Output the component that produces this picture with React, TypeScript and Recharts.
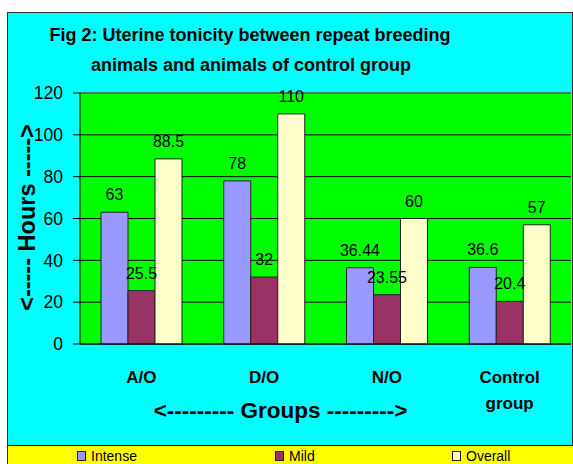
import React from 'react';
import { BarChart, Bar, XAxis, YAxis, CartesianGrid, LabelList, ReferenceLine } from 'recharts';

const categories = ['A/O', 'D/O', 'N/O', 'Control group'];
const intenseValues = [63, 78, 36.44, 36.6];
const mildValues = [25.5, 32, 23.55, 20.4];
const overallValues = [88.5, 110, 60, 57];
const yTicks = [0, 20, 40, 60, 80, 100, 120];
const seriesNames = ['Intense', 'Mild', 'Overall'];
const seriesKeys = ['intense', 'mild', 'overall'];
const titleLines = ['Fig 2: Uterine tonicity between repeat breeding', 'animals and animals of control group'];
const yAxisTitle = '<----- Hours ----->';
const xAxisTitle = '<--------- Groups --------->';

const colors = ['#9999FF', '#993366', '#FFFFCC'];
const legendX = [77, 275, 452];
const FONT = "'Liberation Sans', Arial, Helvetica, sans-serif";

const data = categories.map((c, i) => ({
  name: c,
  intense: intenseValues[i],
  mild: mildValues[i],
  overall: overallValues[i],
}));

const CatTick = (props: any) => {
  const { x, y, payload } = props;
  const lines = String(payload.value).split(' ');
  return (
    <g>
      <text x={x} y={y + 39} textAnchor="middle" fontWeight="bold" fontSize={17} fill="#000" fontFamily={FONT}>
        {lines.map((l, i) => (
          <tspan key={i} x={x} dy={i === 0 ? 0 : 26}>
            {l}
          </tspan>
        ))}
      </text>
    </g>
  );
};

export default function App() {
  return (
    <div
      style={{
        position: 'absolute',
        left: 0,
        top: 0,
        width: 573,
        height: 464,
        background: '#fff',
        overflow: 'hidden',
        fontFamily: FONT,
      }}
    >
      <div
        style={{
          position: 'absolute',
          left: 7,
          top: 12,
          width: 564,
          height: 460,
          background: '#00FFFF',
          border: '1px solid #333',
        }}
      />
      <div style={{ position: 'absolute', left: 0, top: 0 }}>
        <BarChart
          width={573}
          height={464}
          data={data}
          margin={{ top: 93, right: 2, bottom: 80, left: 0 }}
          barGap={0}
          barSize={27}
        >
          <CartesianGrid
            xAxisId="cat"
            vertical={false}
            stroke="#000"
            strokeWidth={1}
            fill="#00FF00"
            fillOpacity={1}
          />
          <XAxis
            xAxisId="edges"
            type="number"
            domain={[0, 4]}
            ticks={[0, 1, 2, 3, 4]}
            allowDataOverflow
            tick={false}
            tickSize={5}
            axisLine={false}
            tickLine={{ stroke: '#000' }}
            height={0}
          />
          <XAxis
            xAxisId="cat"
            dataKey="name"
            tick={<CatTick />}
            tickLine={false}
            tickSize={0}
            tickMargin={0}
            axisLine={{ stroke: '#000' }}
            height={40}
            interval={0}
          />
          <YAxis
            domain={[0, 120]}
            ticks={yTicks}
            interval={0}
            width={80}
            tickSize={7}
            tickMargin={10}
            axisLine={{ stroke: '#000' }}
            tickLine={{ stroke: '#000' }}
            tick={{ fill: '#000', fontSize: 17.5, fontFamily: FONT }}
          />
          <ReferenceLine xAxisId="cat" y={120} stroke="#808080" strokeWidth={1} />
          {seriesKeys.map((k, i) => (
            <Bar
              key={k}
              xAxisId="cat"
              dataKey={k}
              name={seriesNames[i]}
              fill={colors[i]}
              stroke="#222"
              strokeWidth={1}
              isAnimationActive={false}
            >
              <LabelList
                dataKey={k}
                position="top"
                offset={12}
                fill="#000"
                fontSize={16}
                fontFamily={FONT}
              />
            </Bar>
          ))}
        </BarChart>
      </div>
      <svg
        width={573}
        height={464}
        style={{ position: 'absolute', left: 0, top: 0, pointerEvents: 'none' }}
      >
        <text x={250} y={40.7} textAnchor="middle" fontWeight="bold" fontSize={18} fill="#000" fontFamily={FONT}>
          {titleLines[0]}
        </text>
        <text x={251} y={70.7} textAnchor="middle" fontWeight="bold" fontSize={18} fill="#000" fontFamily={FONT}>
          {titleLines[1]}
        </text>
        <text
          x={0}
          y={0}
          transform="translate(27,217.5) rotate(-90)"
          textAnchor="middle"
          dominantBaseline="central"
          fontWeight="bold"
          fontSize={23.5}
          fill="#000"
          fontFamily={FONT}
        >
          {yAxisTitle}
        </text>
        <text x={280.5} y={418} textAnchor="middle" fontWeight="bold" fontSize={22.5} fill="#000" fontFamily={FONT}>
          {xAxisTitle}
        </text>
      </svg>
      <div
        style={{
          position: 'absolute',
          left: 7,
          top: 445,
          width: 566,
          height: 19,
          background: '#FFFF00',
          borderTop: '1px solid #000',
          borderLeft: '1px solid #333',
        }}
      >
        {seriesNames.map((n, i) => (
          <div
            key={n}
            style={{
              position: 'absolute',
              left: legendX[i] - 8,
              top: 0,
              height: 19,
              display: 'flex',
              alignItems: 'center',
              fontSize: 14,
              color: '#000',
              whiteSpace: 'nowrap',
            }}
          >
            <span
              style={{
                display: 'inline-block',
                width: 7,
                height: 8,
                background: colors[i],
                border: '1px solid #222',
                marginRight: 5,
              }}
            />
            {n}
          </div>
        ))}
      </div>
    </div>
  );
}
